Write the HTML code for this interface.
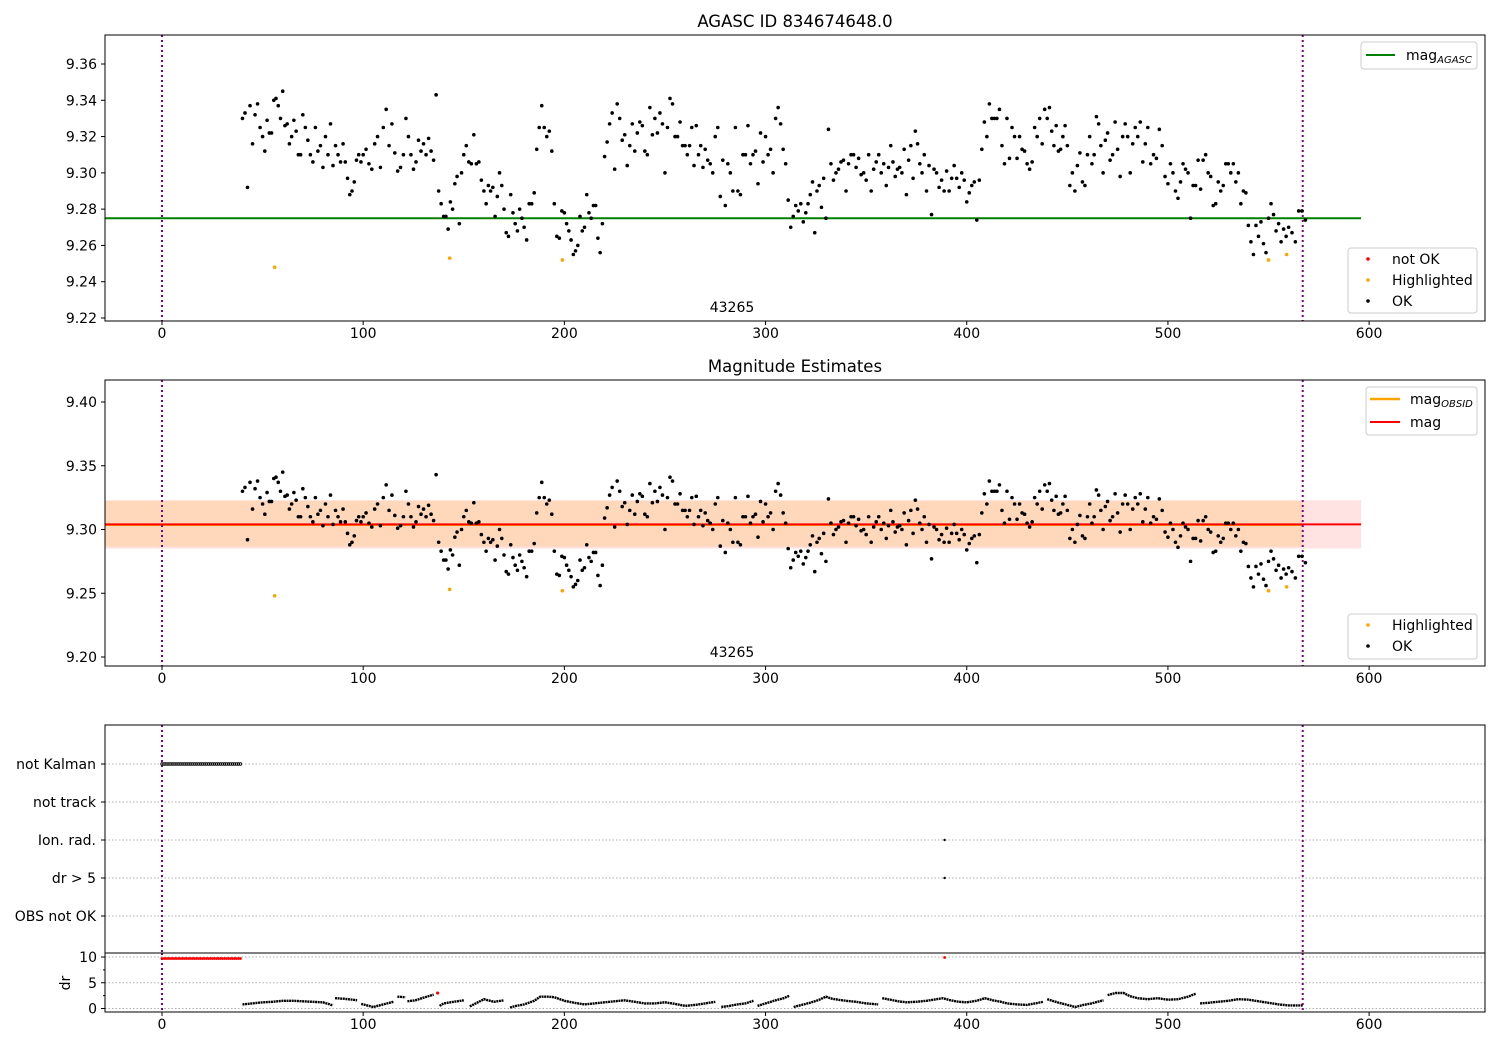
<!DOCTYPE html>
<html><head><meta charset="utf-8">
<style>
html,body{margin:0;padding:0;background:#fff;}
svg{display:block;font-family:"DejaVu Sans","Liberation Sans",sans-serif;font-size:14px;}
text{fill:#000;}
</style></head>
<body>
<svg id="fig" width="1500" height="1050" viewBox="0 0 1500 1050" xmlns="http://www.w3.org/2000/svg">
<g id="p1"></g>
<g id="p2"></g>
<g id="p3"></g>
<g id="p4"></g>
</svg>
<script>
// magnitude values; segment k covers times 40+10k .. 50+10k
const magSegments = [
[9.330,9.333,9.292,9.337,9.316,9.332,9.338,9.325],
[9.320,9.312,9.329,9.322,9.322,9.340,9.341,9.337,9.330],
[9.345,9.326,9.327,9.316,9.320,9.329,9.323,9.310,9.310],
[9.332,9.325,9.318,9.310,9.306,9.325,9.312,9.315],
[9.303,9.320,9.310,9.327,9.304,9.315,9.310,9.306],
[9.316,9.306,9.297,9.288,9.290,9.295,9.307,9.310,9.306],
[9.310,9.313,9.305,9.302,9.316,9.320,9.303],
[9.325,9.335,9.315,9.327,9.311,9.301,9.303],
[9.310,9.330,9.320,9.310,9.302,9.306,9.318,9.312],
[9.316,9.310,9.319,9.312,9.307,9.343,9.290,9.283],
[9.276,9.276,9.269,9.284,9.280,9.294,9.298,9.272,9.300],
[9.310,9.315,9.306,9.305,9.321,9.305,9.306,9.296],
[9.290,9.283,9.293,9.290,9.292,9.276,9.287,9.300,9.293],
[9.280,9.267,9.265,9.288,9.278,9.272,9.268,9.280,9.275],
[9.270,9.263,9.283,9.283,9.289,9.313,9.325,9.337],
[9.325,9.320,9.323,9.312,9.283,9.265,9.264,9.279],
[9.278,9.272,9.268,9.263,9.255,9.257,9.260,9.276,9.268],
[9.270,9.288,9.278,9.275,9.282,9.282,9.264,9.256,9.272],
[9.309,9.317,9.327,9.333,9.302,9.338,9.330,9.318],
[9.321,9.304,9.315,9.327,9.312,9.322,9.328,9.326],
[9.312,9.310,9.336,9.321,9.330,9.322,9.333,9.327],
[9.300,9.325,9.341,9.338,9.320,9.320,9.328,9.315],
[9.315,9.310,9.315,9.325,9.304,9.326,9.310,9.315,9.303],
[9.313,9.307,9.305,9.300,9.320,9.325,9.287,9.307],
[9.282,9.305,9.300,9.290,9.325,9.290,9.288,9.310],
[9.310,9.326,9.305,9.310,9.312,9.294,9.322,9.306],
[9.320,9.310,9.313,9.300,9.330,9.336,9.327,9.313],
[9.305,9.285,9.270,9.276,9.282,9.279,9.283,9.273],
[9.278,9.283,9.288,9.295,9.267,9.290,9.293,9.281,9.297],
[9.275,9.324,9.305,9.296,9.300,9.302,9.306,9.307],
[9.290,9.305,9.310,9.310,9.303,9.308,9.299,9.300],
[9.296,9.310,9.290,9.302,9.306,9.310,9.300,9.305],
[9.293,9.303,9.315,9.306,9.298,9.302,9.303,9.300,9.313],
[9.288,9.307,9.315,9.297,9.323,9.316,9.305,9.300,9.310],
[9.290,9.304,9.277,9.302,9.300,9.292,9.296,9.290],
[9.301,9.290,9.297,9.304,9.297,9.292,9.300,9.296],
[9.284,9.289,9.293,9.295,9.274,9.296,9.313,9.328],
[9.320,9.338,9.330,9.330,9.330,9.335,9.315,9.305],
[9.330,9.308,9.325,9.320,9.308,9.320,9.313,9.312],
[9.305,9.302,9.306,9.325,9.320,9.330,9.316,9.335],
[9.330,9.336,9.323,9.315,9.326,9.312,9.313,9.320,9.326],
[9.315,9.293,9.300,9.290,9.304,9.311,9.295,9.293],
[9.310,9.320,9.305,9.310,9.331,9.327,9.315,9.300,9.318],
[9.322,9.307,9.310,9.328,9.313,9.298,9.320,9.327],
[9.320,9.300,9.316,9.325,9.320,9.328,9.306,9.316],
[9.325,9.305,9.310,9.308,9.324,9.315,9.298],
[9.294,9.305,9.300,9.290,9.286,9.295,9.305,9.302],
[9.300,9.275,9.293,9.293,9.307,9.291,9.307,9.310],
[9.300,9.298,9.282,9.283,9.295,9.290,9.293,9.305],
[9.305,9.300,9.305,9.295,9.300,9.283,9.290,9.289],
[9.271,9.262,9.255,9.271,9.265,9.273,9.261,9.256],
[9.275,9.283,9.277,9.268,9.272,9.262,9.269,9.265],
[9.270,9.267,9.262,9.279,9.279,9.274]
];
const hlTimes = [56, 143, 199, 550, 559];
const hlMags = [9.248, 9.253, 9.252, 9.252, 9.255];
const magAgasc = 9.275;
const magObsid = 9.3045;
const magMean = 9.304;
const magStd = 0.019;
const obsidStd = 0.018;
const obsStart = 0, obsStop = 567, lineEnd = 596;
const xTicks = [0,100,200,300,400,500,600];
const y1Ticks = [9.22,9.24,9.26,9.28,9.30,9.32,9.34,9.36];
const y2Ticks = [9.20,9.25,9.30,9.35,9.40];
const flagLabels = ["not Kalman","not track","Ion. rad.","dr > 5","OBS not OK"];
const notKalmanTimes = Array.from({length:40},(_,i)=>i);
const ionRadTimes = [389];
const drGt5Times = [389];
const drBadTimes = notKalmanTimes.concat([389]);
const drBadValues = notKalmanTimes.map(()=>9.7).concat([9.9]);
const drRedTimes = [137];
const drRedValues = [3.0];
// dr samples: [time, value]; null breaks the track
const drSeries = [
[40,0.8],[45,1.0],[50,1.2],[55,1.3],[60,1.5],[65,1.5],[70,1.4],[75,1.3],[80,1.2],[85,0.6],null,
[86,2.0],[90,1.9],[95,1.7],[97,1.6],null,
[99,0.9],[102,0.6],[105,0.3],[110,0.8],[115,1.3],null,
[117,2.3],[121,2.2],null,
[122,1.4],[126,1.6],[130,2.1],[135,2.7],null,
[138,0.5],[140,1.0],[145,1.3],[150,1.6],null,
[153,0.4],[157,1.2],[160,1.8],[165,1.3],[170,1.6],null,
[173,0.2],[176,0.5],[180,0.8],[185,1.5],[188,2.3],[192,2.3],[195,2.2],[200,1.5],[205,1.1],[210,0.8],[215,1.0],[220,1.2],[225,1.4],[230,1.6],[235,1.3],[240,1.0],[245,1.0],[250,1.2],[255,0.9],[260,0.5],[265,0.7],[270,1.0],[275,1.3],null,
[278,0.3],[282,0.5],[286,0.8],[290,1.0],[294,1.5],null,
[296,0.5],[300,1.0],[305,1.6],[309,2.0],[312,2.5],null,
[314,0.3],[318,0.7],[322,1.1],[326,1.6],[330,2.3],[333,1.9],[336,1.7],[340,1.5],[345,1.3],[350,1.0],[356,0.8],null,
[358,2.0],[362,1.7],[366,1.4],[370,1.2],[375,1.3],[380,1.5],[385,1.8],[388,2.0],[392,1.6],[396,1.3],[400,1.2],[405,1.5],[409,2.0],[413,1.6],[417,1.3],[420,1.0],[425,0.8],[430,0.7],[434,1.0],[438,1.3],null,
[440,1.8],[445,1.2],[450,0.7],[454,0.3],[458,0.7],[462,1.0],[466,1.4],[468,1.6],null,
[470,2.6],[474,3.0],[478,3.0],[481,2.4],[485,2.0],[490,1.8],[495,2.0],[500,1.7],[505,1.8],[510,2.3],[514,2.9],null,
[516,1.0],[520,1.1],[525,1.3],[530,1.5],[535,1.8],[540,1.7],[545,1.4],[550,1.1],[555,0.8],[560,0.6],[567,0.6]
];
const magTimes = [], magValues = [];
magSegments.forEach((seg,k)=>seg.forEach((v,i)=>{magTimes.push(40+10*k+i*10/seg.length);magValues.push(v);}));

const NS="http://www.w3.org/2000/svg";
function mk(parent,tag,attrs,txt){const e=document.createElementNS(NS,tag);for(const k in attrs)e.setAttribute(k,attrs[k]);if(txt!==undefined)e.textContent=txt;parent.appendChild(e);return e;}
const L=105,R=1485;
const xs=t=>L+(t+28.33)*(R-L)/(657.6+28.33);
// map value v0 -> pixel p0, v1 -> pixel p1
function yScale(v0,v1,p0,p1){return v=>p0+(v-v0)*(p1-p0)/(v1-v0);}

function frame(g,top,bot,xlabels){
  const f=mk(g,'rect',{x:L,y:top,width:R-L,height:bot-top,fill:'none',stroke:'#000','stroke-width':1});
  
  
  xTicks.forEach(t=>{
    mk(g,'line',{x1:xs(t),x2:xs(t),y1:bot,y2:bot+4,stroke:'#000'});
    if(xlabels){const tx=mk(g,'text',{x:xs(t),y:bot+17,'text-anchor':'middle','font-size':14},String(t));
      
      }
  });
}
function vlines(g,top,bot){
  [obsStart,obsStop].forEach(t=>{const l=mk(g,'line',{x1:xs(t),x2:xs(t),y1:top,y2:bot,stroke:'#800080','stroke-width':2,'stroke-dasharray':'2,3'});
    
    });
}
function yticks(g,ticks,ys,fmt){
  ticks.forEach(v=>{mk(g,'line',{x1:L-4,x2:L,y1:ys(v),y2:ys(v),stroke:'#000'});
    const t=mk(g,'text',{x:L-8,y:ys(v)+5,'text-anchor':'end','font-size':14},fmt(v));
    
    });
}
function dots(g,ts,vs,ys,color,r,name){
  ts.forEach((t,i)=>{const c=mk(g,'circle',{cx:xs(t),cy:ys(vs[i]),r:r,fill:color});
    
    });
}
function legendBox(g,x,y,w,h,name){const b=mk(g,'rect',{x:x,y:y,width:w,height:h,rx:3,fill:'#fff','fill-opacity':0.8,stroke:'#ccc'});
  
  }

// Panel 1
const g1=document.getElementById('p1');
const y1=yScale(9.22,9.36,318,64);
const t1=mk(g1,'text',{x:795,y:27,'text-anchor':'middle','font-size':16.5},'AGASC ID 834674648.0');

const agl=mk(g1,'line',{x1:L,x2:xs(lineEnd),y1:y1(magAgasc),y2:y1(magAgasc),stroke:'#008000','stroke-width':2});


vlines(g1,35,321);
dots(g1,magTimes,magValues,y1,'#000',1.8,'ok-point');
dots(g1,hlTimes,hlMags,y1,'#ffa500',1.8,'highlighted-point');
mk(g1,'text',{x:732,y:312,'text-anchor':'middle','font-size':14},'43265');
frame(g1,35,321,true);
yticks(g1,y1Ticks,y1,v=>v.toFixed(2));
legendBox(g1,1361,42,116,27,'legend-agasc');
mk(g1,'line',{x1:1366,x2:1395,y1:55,y2:55,stroke:'#008000','stroke-width':2});
const lt1=mk(g1,'text',{x:1406,y:60,'font-size':14},'mag');mk(lt1,'tspan',{dy:3,'font-size':'10','font-style':'italic'},'AGASC');
legendBox(g1,1348,248,129,65,'legend-status');
mk(g1,'circle',{cx:1368,cy:259,r:1.8,fill:'#f00'});
mk(g1,'circle',{cx:1368,cy:280,r:1.8,fill:'#ffa500'});
mk(g1,'circle',{cx:1368,cy:301,r:1.8,fill:'#000'});
mk(g1,'text',{x:1392,y:264,'font-size':14},'not OK');
mk(g1,'text',{x:1392,y:285,'font-size':14},'Highlighted');
mk(g1,'text',{x:1392,y:306,'font-size':14},'OK');

// Panel 2
const g2=document.getElementById('p2');
const y2=yScale(9.20,9.40,657,402);
mk(g2,'text',{x:795,y:372,'text-anchor':'middle','font-size':16.5},'Magnitude Estimates');
const pb=mk(g2,'rect',{x:L,y:y2(magMean+magStd),width:xs(lineEnd)-L,height:y2(magMean-magStd)-y2(magMean+magStd),fill:'#ff0000','fill-opacity':0.11});


const ob=mk(g2,'rect',{x:L,y:y2(magObsid+obsidStd),width:xs(obsStop)-L,height:y2(magObsid-obsidStd)-y2(magObsid+obsidStd),fill:'#ffa500','fill-opacity':0.17});


const oln=mk(g2,'line',{x1:L,x2:xs(obsStop),y1:y2(magObsid)+1,y2:y2(magObsid)+1,stroke:'#ffa500','stroke-width':2.5});


const mln=mk(g2,'line',{x1:L,x2:xs(lineEnd),y1:y2(magMean),y2:y2(magMean),stroke:'#f00','stroke-width':2});


vlines(g2,380,666);
dots(g2,magTimes,magValues,y2,'#000',1.8,'ok-point');
dots(g2,hlTimes,hlMags,y2,'#ffa500',1.8,'highlighted-point');
mk(g2,'text',{x:732,y:657,'text-anchor':'middle','font-size':14},'43265');
frame(g2,380,666,true);
yticks(g2,y2Ticks,y2,v=>v.toFixed(2));
legendBox(g2,1366,387,111,48,'legend-mag');
mk(g2,'line',{x1:1370,x2:1400,y1:399,y2:399,stroke:'#ffa500','stroke-width':2.5});
mk(g2,'line',{x1:1370,x2:1400,y1:422,y2:422,stroke:'#f00','stroke-width':2});
const lt2=mk(g2,'text',{x:1410,y:404,'font-size':14},'mag');mk(lt2,'tspan',{dy:3,'font-size':'10','font-style':'italic'},'OBSID');
mk(g2,'text',{x:1410,y:427,'font-size':14},'mag');
legendBox(g2,1348,614,129,45,'legend-status');
mk(g2,'circle',{cx:1368,cy:625,r:1.8,fill:'#ffa500'});
mk(g2,'circle',{cx:1368,cy:646,r:1.8,fill:'#000'});
mk(g2,'text',{x:1392,y:630,'font-size':14},'Highlighted');
mk(g2,'text',{x:1392,y:651,'font-size':14},'OK');

// Panel 3 flags
const g3=document.getElementById('p3');
const flagY=i=>764+i*38;
flagLabels.forEach((lab,i)=>{
  mk(g3,'line',{x1:L,x2:R,y1:flagY(i),y2:flagY(i),stroke:'#b0b0b0','stroke-dasharray':'1.5,2'});
  mk(g3,'line',{x1:L-4,x2:L,y1:flagY(i),y2:flagY(i),stroke:'#000'});
  const t=mk(g3,'text',{x:L-9,y:flagY(i)+5,'text-anchor':'end','font-size':14},lab);
  
  
});
vlines(g3,725,953);
notKalmanTimes.forEach(t=>{const c=mk(g3,'circle',{cx:xs(t),cy:flagY(0),r:1.3,fill:'none',stroke:'#000','stroke-width':0.8});
  
  });
ionRadTimes.forEach(t=>{const c=mk(g3,'circle',{cx:xs(t),cy:flagY(2),r:1.2,fill:'#000'});
  
  });
drGt5Times.forEach(t=>{const c=mk(g3,'circle',{cx:xs(t),cy:flagY(3),r:1.2,fill:'#000'});
  
  });
mk(g3,'rect',{x:L,y:725,width:R-L,height:228,fill:'none',stroke:'#000'});

// Panel 4 dr
const g4=document.getElementById('p4');
const y4=yScale(0,10,1008.5,957);
[0,5,10].forEach(v=>mk(g4,'line',{x1:L,x2:R,y1:y4(v),y2:y4(v),stroke:'#b0b0b0','stroke-dasharray':'1.5,2'}));
yticks(g4,[0,5,10],y4,v=>String(v));
[2.5,7.5].forEach(v=>mk(g4,'line',{x1:L-2,x2:L,y1:y4(v),y2:y4(v),stroke:'#000'}));
const yl=mk(g4,'text',{x:70,y:983,'text-anchor':'middle','font-size':14,transform:'rotate(-90 70 983)'},'dr');


vlines(g4,953,1012);
let seg=[];
function flush(){if(seg.length>1){const p=mk(g4,'polyline',{points:seg.join(' '),fill:'none',stroke:'#000','stroke-width':2.4,'stroke-dasharray':'2,0.6'});
  
  }seg=[];}
drSeries.forEach(p=>{if(p===null){flush();}else seg.push(xs(p[0]).toFixed(1)+','+y4(p[1]).toFixed(1));});
flush();
drBadTimes.forEach((t,i)=>{const c=mk(g4,'circle',{cx:xs(t),cy:y4(drBadValues[i]),r:1.4,fill:'#f00'});
  
  });
drRedTimes.forEach((t,i)=>{const c=mk(g4,'circle',{cx:xs(t),cy:y4(drRedValues[i]),r:1.6,fill:'#f00'});
  
  });
frame(g4,953,1012,true);
</script>
</body></html>
